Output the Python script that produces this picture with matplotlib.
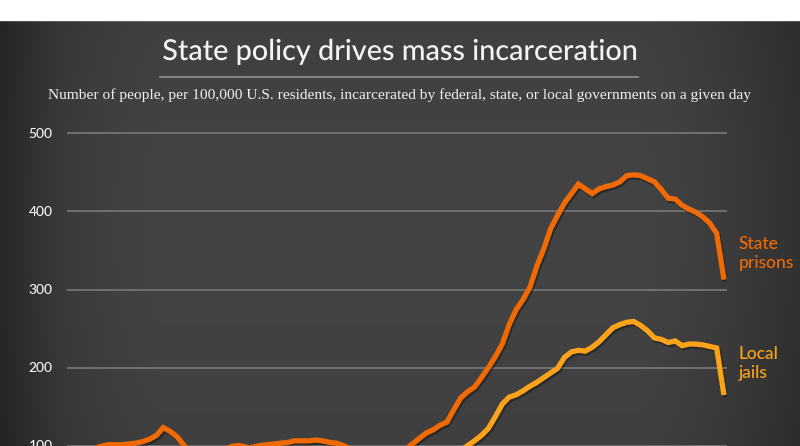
import numpy as np
import matplotlib
matplotlib.use("Agg")
import matplotlib.pyplot as plt
import matplotlib.patheffects as pe
from matplotlib.lines import Line2D
from matplotlib.patches import Rectangle

# data (rate per 100,000 U.S. residents)
prison_years = list(range(1925, 2021))
state_prisons = [
    79, 83, 88, 92, 96, 99, 101, 101, 101, 102,          # 1925-1934
    103, 105, 108, 113, 123, 118, 111, 100, 90, 86,      # 1935-1944
    86, 90, 94, 96, 99, 100, 98, 98, 100, 101,           # 1945-1954
    102, 103, 104, 106, 106, 106, 107, 106, 104, 103,    # 1955-1964
    100, 96, 93, 89, 88, 87, 88, 87, 89, 95,             # 1965-1974
    102, 109, 116, 120, 126, 130, 146, 161, 169, 175,    # 1975-1984
    187, 200, 214, 230, 255, 274, 287, 303, 330, 352,    # 1985-1994
    378, 395, 411, 423, 435, 429, 423, 429, 432, 434,    # 1995-2004
    438, 446, 447, 446, 442, 438, 428, 417, 416, 408,    # 2005-2014
    403, 399, 393, 385, 372, 316,                        # 2015-2020
]
jail_years = list(range(1978, 2021))
local_jails = [
    72, 78, 82, 87, 93, 100, 106, 113, 122, 137,         # 1978-1987
    153, 162, 165, 170, 176, 181, 187, 193, 199, 213,    # 1988-1997
    220, 222, 221, 226, 233, 242, 251, 255, 258, 259,    # 1998-2007
    254, 247, 238, 236, 232, 234, 228, 230, 230, 229,    # 2008-2017
    227, 225, 168,                                       # 2018-2020
]
yticks = [100, 200, 300, 400, 500]

title = "State policy drives mass incarceration"
subtitle = ("Number of people, per 100,000 U.S. residents, incarcerated by "
            "federal, state, or local governments on a given day")

W, H = 800, 446
fig = plt.figure(figsize=(W / 100, H / 100), dpi=100)
fig.patch.set_facecolor("#404040")

# background vignette
bg = fig.add_axes([0, 0, 1, 1], zorder=-10)
xx, yy = np.meshgrid(np.linspace(-1, 1, 400), np.linspace(-1, 1, 223))
shade = 0.262 - 0.07 * np.clip(np.abs(xx) - 0.6, 0, None) ** 1.5 * 4 \
        - 0.015 * np.abs(yy) ** 2
shade = np.where(xx < 0, shade - 0.035 * np.clip(-xx - 0.85, 0, None) / 0.15, shade)
bg.imshow(np.dstack([shade] * 3), aspect="auto", extent=[0, 1, 0, 1],
          interpolation="bilinear")
bg.axis("off")
fig.add_artist(Rectangle((0, (H - 20) / H), 1, 20 / H, transform=fig.transFigure,
                         color="white", zorder=5))

# axes placement: 500 at y=133.5px, 100 at y=445.5px
px_per_unit = 0.78
ylo, yhi = 0, 520
top_px = 445.5 - (yhi - 100) * px_per_unit
bot_px = 445.5 + (100 - ylo) * px_per_unit
ax = fig.add_axes([66.5 / W, (H - bot_px) / H, (726.7 - 66.5) / W, (bot_px - top_px) / H])
ax.set_facecolor("none")
ax.set_xlim(1925, 2020.45)
ax.set_ylim(ylo, yhi)
for v in yticks:
    ax.axhline(v, color="#707070", lw=1.4, zorder=1)
for s in ax.spines.values():
    s.set_visible(False)
ax.set_xticks([])
ax.set_yticks(yticks)
ax.tick_params(axis="y", length=0, pad=10, labelcolor="#f2f2f2", labelsize=10)
for lab in ax.get_yticklabels():
    lab.set_fontfamily("Lato")
    lab.set_fontweight("medium")

shadow = [pe.SimpleLineShadow(offset=(1, -1.5), alpha=0.35), pe.Normal()]
c_state, c_jail = "#ef6a05", "#fba31b"
ax.plot(prison_years, state_prisons, color=c_state, lw=3.8, zorder=4,
        solid_joinstyle="miter", path_effects=shadow)
ax.plot(jail_years, local_jails, color=c_jail, lw=3.8, zorder=3,
        solid_joinstyle="miter", path_effects=shadow)
ax.text(1.018, 346, "State\nprisons", transform=ax.get_yaxis_transform(),
        color=c_state, fontsize=12.5, family="Lato", fontweight="medium",
        va="center", ha="left", linespacing=1.2, clip_on=False)
ax.text(1.018, 205, "Local\njails", transform=ax.get_yaxis_transform(),
        color=c_jail, fontsize=12.5, family="Lato", fontweight="medium",
        va="center", ha="left", linespacing=1.2, clip_on=False)


def fit_text(t, width_px):
    fig.canvas.draw()
    w = t.get_window_extent().width
    t.set_fontsize(t.get_fontsize() * width_px / w)


t1 = fig.text(0.5, (H - 52) / H, title, ha="center", va="center", color="#f4f4f4",
              fontsize=20, family="Lato", fontweight="medium",
              path_effects=[pe.withSimplePatchShadow(offset=(1, -1), alpha=0.4)])
fit_text(t1, 476)
fig.add_artist(Line2D([160 / W, 638 / W], [(H - 77) / H] * 2, transform=fig.transFigure,
                      color="#8c8c8c", lw=1.3))
t2 = fig.text(0.5, (H - 95) / H, subtitle, ha="center", va="center", color="#f0f0f0",
              fontsize=11, family="Liberation Serif")
fit_text(t2, 698)

fig.savefig("out.png", dpi=100, facecolor=fig.get_facecolor())
